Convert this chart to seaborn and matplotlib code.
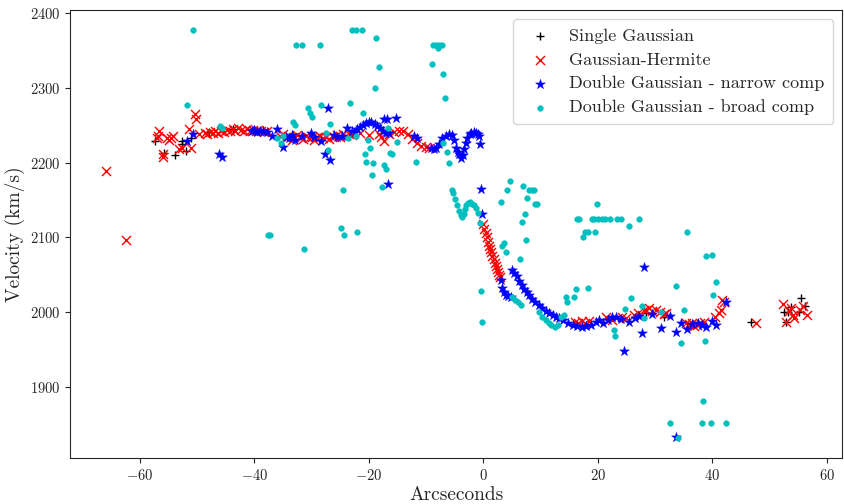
import matplotlib
matplotlib.use("Agg")
import matplotlib.pyplot as plt
import seaborn as sns
import pandas as pd

# ---------------- data ----------------
sg_x = [-57.3, -55.8, -53.8, -52.6, -52.6, -51.9, -51.0, -47.9, -43.7, -40.2,
        28.4, 31.5, 46.7, 52.5, 53.2, 55.2, 55.5, 56.2, 52.9, 53.8]
sg_y = [2229, 2213, 2211, 2229, 2225, 2216, 2233, 2241, 2245, 2244,
        1999, 1994, 1987, 2000, 2000, 2000, 2019, 2008, 1987, 2007]

gh_x = [-66.0, -62.4, -56.6, -56.9, -56.0, -56.0, -55.3, -54.5, -54.3, -53.1,
        -52.6, -51.0, -51.4, -50.3, -50.2, -49.6, -48.7, -57.0, -55.0,
        -48.3, -47.8, -47.3, -46.8, -46.3, -45.8, -45.3, -44.8, -44.3, -43.8,
        -43.3, -42.8, -42.3, -41.8, -41.3, -40.8, -40.3, -39.8, -39.3, -38.8,
        -38.3, -37.8,
        -35.5, -35.0, -34.5, -34.0, -33.5, -33.0, -32.5,
        -32.0, -31.5, -31.0, -30.5, -30.0, -29.5, -29.0, -28.5, -28.0, -27.5,
        -27.0, -26.5, -26.0, -25.5, -25.0, -24.5, -24.0, -23.5, -23.0,
        -21.5, -20.0, -18.2, -17.3, -17.8,
        -16.4, -15.6, -14.8, -14.0, -13.2, -12.4, -11.6, -10.8, -10.0, -9.4,
        0.0, 0.2, 0.4, 0.6, 0.8, 1.0, 1.2, 1.4, 1.6, 1.8, 2.0, 2.2, 2.4, 2.6,
        2.8, 3.0,
        16.1, 16.6, 17.2, 17.8, 18.4, 21.5, 22.5, 24.2, 25.0, 26.3, 27.0, 28.0,
        28.4, 29.0, 29.5, 30.1, 30.8, 31.5, 31.9, 35.5, 36.0, 36.4, 36.9, 37.3,
        37.8, 38.5, 40.5, 41.1, 41.5, 42.0, 41.7,
        47.6, 52.3, 53.8, 54.3, 52.9, 55.9, 56.6, 54.1, 55.3, 53.4]
gh_y = [2189, 2096, 2243, 2236, 2212, 2208, 2233, 2233, 2236, 2219,
        2220, 2220, 2245, 2265, 2259, 2239, 2240, 2233, 2230,
        2238, 2241, 2240, 2242, 2240, 2243, 2241, 2244, 2243, 2245,
        2243, 2246, 2244, 2243, 2245, 2243, 2244, 2242, 2244, 2242,
        2241, 2243,
        2236, 2238, 2233, 2236, 2231, 2234, 2237,
        2235, 2232, 2236, 2233, 2235, 2231, 2234, 2236, 2233, 2235,
        2232, 2236, 2234, 2237, 2235, 2238, 2236, 2239, 2237,
        2240, 2237, 2239, 2229, 2234,
        2238, 2241, 2242, 2242, 2239, 2232, 2227, 2223, 2221, 2220,
        2118, 2112, 2106, 2100, 2094, 2089, 2084, 2080, 2075, 2071, 2066, 2062,
        2058, 2054, 2050, 2047,
        1987, 1985, 1988, 1986, 1988, 1993, 1990, 1994, 1992, 1996, 1999, 2003,
        2003, 2005, 2002, 2003, 2000, 1998, 1999, 1986, 1984, 1985, 1982, 1983,
        1986, 1987, 1994, 1999, 2003, 2013, 2016,
        1985, 2011, 2005, 1992, 1987, 2008, 1996, 1996, 2003, 2001]

dn_x = [-51.7, -50.7, -46.1, -45.6, -37.8, -36.0, -37.0, -35.0, -32.9, -40.5,
        -40.0, -39.5, -39.0, -38.5,
        -34.5, -34.0, -33.5, -31.6, -30.1, -29.5, -28.3, -27.6, -26.8, -27.1,
        -26.0, -25.5, -24.7, -23.8, -22.9, -22.5, -22.0, -21.5, -21.0, -20.5,
        -20.0, -19.6, -19.0, -18.5, -18.0, -17.3, -16.8, -15.2, -16.4, -16.6,
        -17.5, -17.0, -12.1, -11.5, -9.1, -8.6, -8.2, -7.7, -7.2, -6.6, -6.0,
        -5.5, -5.1, -4.8, -4.5, -4.2, -3.9, -3.6, -3.3, -3.0, -2.8, -2.4, -2.1,
        -1.7, -1.3, -0.9, -0.7, -0.6, -0.4, -0.2,
        3.1, 3.3, 3.6, 3.9, 4.3, 4.8, 5.0, 5.4, 5.9, 6.3, 6.8, 7.2, 7.6, 8.0,
        8.5, 9.0, 9.7, 10.3, 10.9, 11.5, 12.1, 12.7, 13.3, 14.0, 14.8, 15.6,
        16.4, 17.2, 18.0, 18.8, 19.7, 20.2, 21.0, 21.8, 22.5, 23.2, 24.0, 24.6,
        25.5, 26.5, 27.2, 27.8, 28.1, 29.5, 31.1, 32.6, 33.6, 34.5, 35.6, 36.5,
        37.5, 38.2, 38.9, 40.0, 40.6, 42.4, 33.7]
dn_y = [2229, 2239, 2212, 2208, 2241, 2245, 2236, 2221, 2231, 2242,
        2244, 2241, 2243, 2242,
        2235, 2233, 2237, 2236, 2240, 2235, 2229, 2212, 2204, 2273,
        2237, 2234, 2236, 2247, 2243, 2241, 2245, 2248, 2251, 2253,
        2254, 2255, 2252, 2249, 2246, 2259, 2259, 2260, 2240, 2172,
        2243, 2240, 2236, 2233, 2220, 2219, 2220, 2225, 2233, 2236, 2239,
        2237, 2230, 2220, 2215, 2212, 2207, 2210, 2219, 2226, 2233, 2238, 2240,
        2241, 2240, 2238, 2236, 2225, 2165, 2131,
        2043, 2032, 2027, 2023, 2022, 2021, 2056, 2053, 2048, 2042, 2036, 2031,
        2027, 2023, 2018, 2014, 2009, 2005, 2002, 1999, 1996, 1994, 1992, 1989,
        1986, 1983, 1981, 1980, 1981, 1983, 1987, 1989, 1986, 1989, 1993, 1993,
        1991, 1948, 1987, 1992, 1995, 1972, 2060, 1998, 1979, 1995, 1973, 1985,
        1977, 1984, 1985, 1983, 1980, 1988, 1983, 2013, 1833]

db_x = [-50.7, -51.7, -46.0, -45.6, -37.6, -37.2, -36.0, -35.3, -35.0, -33.2,
        -32.9, -32.7, -31.6, -28.5, -30.6, -30.3, -30.0, -28.3, -26.8, -27.5,
        -27.1, -22.9, -22.3, -21.2, -18.7, -18.2, -18.9, -23.3, -21.0, -22.3,
        -23.7, -20.1, -19.8, -20.7, -20.5, -19.3, -19.4, -17.3, -17.0, -16.3,
        -16.0, -16.7, -17.7, -24.5, -24.8, -24.3, -22.1, -31.3, -15.1, -11.8,
        -9.0, -8.7, -8.2, -7.8, -7.2, -8.0, -7.0, -6.7, -6.3, -6.0, -7.0,
        -5.5, -5.3, -5.0, -4.6, -4.2, -3.9, -3.7, -3.4, -3.2, -3.0, -2.6, -2.3,
        -1.9, -1.6, -1.3, -0.9, -0.6, -0.4, -0.2,
        4.7, 7.0, 8.0, 8.5, 8.8, 4.2, 3.1, 7.6, 9.1, 9.4, 7.3, 6.8, 7.5, 3.6,
        3.3, 4.0, 6.4, 19.9, 16.4, 16.7, 19.0, 19.4, 20.1, 20.7, 21.3, 22.2,
        23.4, 24.1, 27.2, 25.4, 17.8, 18.3, 19.5, 17.4, 35.6, 38.9, 40.0,
        5.1, 5.5, 6.1, 6.6, 9.7, 10.3, 10.9, 11.5, 11.8, 12.5, 13.1, 13.6, 14.1,
        14.5, 14.6, 15.9, 16.2, 18.3, 25.8, 27.7, 28.1, 22.8, 23.1, 24.8, 31.1,
        33.6, 35.0, 40.1, 40.7, 34.5, 38.8,
        38.4, 32.6, 38.2, 39.7, 42.4, 34.0]
db_y = [2377, 2277, 2249, 2247, 2103, 2103, 2233, 2227, 2236, 2255,
        2251, 2357, 2357, 2357, 2273, 2267, 2261, 2277, 2252, 2240,
        2217, 2377, 2377, 2377, 2367, 2328, 2300, 2280, 2267, 2236,
        2233, 2231, 2220, 2212, 2201, 2200, 2184, 2197, 2192, 2213,
        2212, 2247, 2168, 2163, 2113, 2103, 2107, 2084, 2228, 2201,
        2332, 2357, 2357, 2357, 2357, 2354, 2319, 2287, 2215, 2199, 2226,
        2164, 2159, 2152, 2143, 2135, 2130, 2127, 2131, 2138, 2143, 2146, 2147,
        2145, 2143, 2140, 2133, 2119, 2028, 1987,
        2175, 2169, 2164, 2164, 2164, 2164, 2148, 2153, 2145, 2145, 2131, 2121,
        2097, 2092, 2088, 2080, 2071, 2145, 2125, 2125, 2125, 2125, 2125, 2125,
        2125, 2125, 2125, 2125, 2125, 2115, 2107, 2107, 2107, 2101, 2107, 2075,
        2076,
        2021, 2017, 2013, 2010, 2000, 1993, 1989, 1985, 1983, 1980, 1983, 1993,
        1996, 2020, 2013, 2020, 2031, 2032, 2019, 2008, 1992, 1976, 1968, 2004,
        2000, 2035, 2003, 2023, 2041, 1959, 1961,
        1881, 1852, 1852, 1852, 1852, 1832]

labels = ["Single Gaussian", "Gaussian-Hermite",
          "Double Gaussian - narrow comp", "Double Gaussian - broad comp"]

# ---------------- style ----------------
sns.set_style("ticks")
plt.rcParams["font.family"] = ["cmr10", "DejaVu Serif"]
plt.rcParams["mathtext.fontset"] = "cm"
plt.rcParams["axes.formatter.use_mathtext"] = True
plt.rcParams["axes.unicode_minus"] = True

fig = plt.figure(figsize=(8.44, 5.04), dpi=100)
ax = fig.add_axes([0.0835, 0.091, 0.9145, 0.889])

sns.scatterplot(x=sg_x, y=sg_y, ax=ax, marker="+", color="k", s=40,
                linewidth=1.0, label=labels[0])
sns.scatterplot(x=gh_x, y=gh_y, ax=ax, marker="x", color="r", s=42,
                linewidth=1.0, label=labels[1])
sns.scatterplot(x=dn_x, y=dn_y, ax=ax, marker="*", color="b", s=55,
                edgecolor="b", linewidth=0.3, label=labels[2])
sns.scatterplot(x=db_x, y=db_y, ax=ax, marker="o", color="c", s=17,
                edgecolor="c", linewidth=0.3, label=labels[3])

for sp in ax.spines.values():
    sp.set_visible(True)
    sp.set_linewidth(0.8)

ax.set_xlabel("Arcseconds", fontsize=14, labelpad=2)
ax.set_ylabel("Velocity (km/s)", fontsize=14, labelpad=4)
ax.tick_params(labelsize=10.5)
ax.set_xticks([-60, -40, -20, 0, 20, 40, 60])
ax.set_yticks([1900, 2000, 2100, 2200, 2300, 2400])
ax.legend(loc="upper right", fontsize=13, scatterpoints=1,
          handletextpad=0.6, borderpad=0.5, labelspacing=0.45,
          framealpha=0.8)

fig.savefig("out.png", dpi=100)
